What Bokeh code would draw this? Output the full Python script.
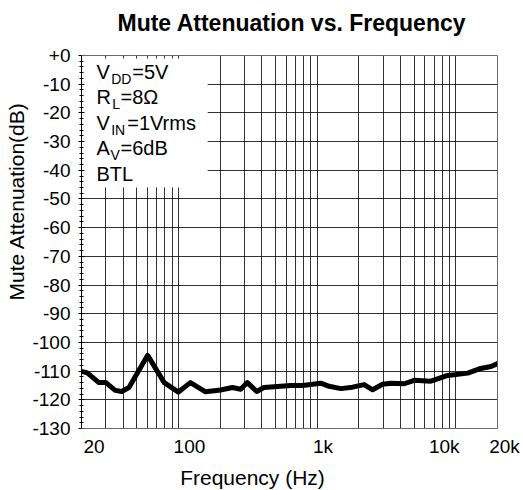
from bokeh.plotting import figure
from bokeh.models import FixedTicker, Label, BoxAnnotation, Range1d, Title, Grid
from bokeh.embed import file_html
from bokeh.resources import INLINE

# ---------------- data ----------------
freq_hz = [20, 22, 26.7, 30, 35, 39, 44, 60, 79, 100, 122, 157, 201, 245, 281,
           314, 367, 414, 547, 646, 784, 1063, 1222, 1483, 1801, 2185, 2513,
           2967, 3405, 4250, 5015, 6620, 8740, 12200, 14790, 17960, 20000]
atten_db = [-110.1, -110.6, -114.0, -114.0, -116.7, -117.1, -115.7, -104.5,
            -114.0, -117.3, -114.0, -117.2, -116.6, -115.7, -116.3, -114.0,
            -117.1, -115.7, -115.3, -115.0, -115.0, -114.2, -115.3, -116.1,
            -115.6, -114.7, -116.5, -114.6, -114.2, -114.4, -113.2, -113.5,
            -111.5, -110.7, -109.2, -108.4, -107.4]

x_tick_values = [20, 100, 1000, 10000, 20000]
x_tick_labels = ["20", "100", "1k", "10k", "20k"]
x_grid_values = [20, 30, 40, 50, 60, 70, 80, 90,
                 100, 200, 300, 400, 500, 600, 700, 800, 900,
                 1000, 2000, 3000, 4000, 5000, 6000, 7000, 8000, 9000,
                 10000, 20000]
y_tick_values = [-130, -120, -110, -100, -90, -80, -70, -60, -50, -40, -30, -20, -10, 0]
y_tick_labels = ["-130", "-120", "-110", "-100", "-90", "-80", "-70", "-60",
                 "-50", "-40", "-30", "-20", "-10", "+0"]
y_minor_values = list(range(-130, 1, 2))

cond_main = ["V", "R", "V", "A", "BTL"]
cond_sub = ["DD", "L", "IN", "V", ""]
cond_rest = ["=5V", "=8\u03a9", "=1Vrms", "=6dB", ""]

title_text = "Mute Attenuation vs. Frequency"
x_title = "Frequency (Hz)"
y_title = "Mute Attenuation(dB)"

X_MIN, X_MAX = 20, 20000
Y_MIN, Y_MAX = -130, 0

# ---------------- layout ----------------
FONT = "Liberation Sans"
W, H = 523, 490
PLOT_L, PLOT_R, PLOT_T, PLOT_B = 81, 497, 55, 428   # plot box in pixels
PX_PER_DB = (PLOT_B - PLOT_T) / (Y_MAX - Y_MIN)
PX_PER_DEC = (PLOT_R - PLOT_L) / 3.0

# the frame is extended to the canvas' top, right and bottom edges so that
# the free-standing texts there are not clipped; the extra part is masked white
x_end = X_MAX * 10 ** ((W - PLOT_R) / PX_PER_DEC)
y_top = Y_MAX + PLOT_T / PX_PER_DB
y_bot = Y_MIN - (H - PLOT_B) / PX_PER_DB


def db_at(py):
    """data y for an image pixel row"""
    return Y_MAX - (py - PLOT_T) / PX_PER_DB


p = figure(width=W, height=H, x_axis_type="log", title=None,
           x_range=Range1d(X_MIN, x_end), y_range=Range1d(y_bot, y_top),
           output_backend="svg", toolbar_location=None,
           min_border_left=PLOT_L, min_border_right=0,
           min_border_top=0, min_border_bottom=0)

p.outline_line_color = None
p.background_fill_color = "white"
p.border_fill_color = "white"

p.xaxis.visible = False

ya = p.yaxis[0]
ya.ticker = FixedTicker(ticks=y_tick_values, minor_ticks=y_minor_values)
ya.bounds = (Y_MIN, Y_MAX)
ya.major_label_overrides = {v: s for v, s in zip(y_tick_values, y_tick_labels)}
ya.axis_line_color = "black"
ya.major_tick_line_color = "black"
ya.minor_tick_line_color = "black"
ya.major_tick_in = 3
ya.major_tick_out = 3
ya.minor_tick_in = 2
ya.minor_tick_out = 2
ya.major_label_standoff = 8
ya.major_label_text_font = FONT
ya.major_label_text_font_size = "19px"
ya.major_label_text_color = "black"

p.add_layout(Title(text=y_title, align="left", offset=H - 300, standoff=3,
                   text_font=FONT, text_font_size="21px",
                   text_font_style="normal", text_color="black"), "left")

p.xgrid.ticker = FixedTicker(ticks=x_grid_values)
p.xgrid.grid_line_color = "black"
p.xgrid.grid_line_alpha = 0.8
p.ygrid.ticker = FixedTicker(ticks=y_tick_values)
p.ygrid.grid_line_color = "black"
p.ygrid.grid_line_alpha = 0.8
if "cross_bounds" in Grid.properties():
    p.xgrid.cross_bounds = (Y_MIN, Y_MAX)
    p.ygrid.cross_bounds = (X_MIN, X_MAX)

p.line(freq_hz, atten_db, line_width=5, line_color="black",
       line_join="round", line_cap="round")

# white masks over the frame extension (overshooting the frame edges)
x_far = x_end * 2
y_hi, y_lo = y_top + 20, y_bot - 20
p.add_layout(BoxAnnotation(left=X_MIN / 2, right=x_far, top=Y_MIN, bottom=y_lo,
                           fill_color="white", fill_alpha=1.0, line_color=None))
p.add_layout(BoxAnnotation(left=X_MIN / 2, right=x_far, top=y_hi, bottom=Y_MAX,
                           fill_color="white", fill_alpha=1.0, line_color=None))
p.add_layout(BoxAnnotation(left=X_MAX, right=x_far, top=y_hi, bottom=y_lo,
                           fill_color="white", fill_alpha=1.0, line_color=None))
# white conditions box
p.add_layout(BoxAnnotation(left=21, right=162.5, top=db_at(58), bottom=db_at(187),
                           fill_color="white", fill_alpha=1.0, line_color=None))
# plot border
p.add_layout(BoxAnnotation(left=X_MIN, right=X_MAX, top=Y_MAX, bottom=Y_MIN,
                           fill_alpha=0.0, line_color="black", line_width=1))

# chart title
p.add_layout(Label(x=117 - PLOT_L, y=db_at(22), x_units="screen", y_units="data",
                   text=title_text, text_align="left", text_baseline="middle",
                   text_font=FONT, text_font_size="23px", text_font_style="bold",
                   text_color="black"))

# x tick labels (placed individually, as in the original)
x_label_dx = [12.5, 11, 6, -11.5, 7]
for v, s, dx in zip(x_tick_values, x_tick_labels, x_label_dx):
    p.add_layout(Label(x=v, y=db_at(445.5), x_units="data", y_units="data",
                       x_offset=dx, text=s, text_align="center",
                       text_baseline="middle", text_font=FONT,
                       text_font_size="19px", text_color="black"))

p.add_layout(Label(x=252 - PLOT_L, y=db_at(477), x_units="screen", y_units="data",
                   text=x_title, text_align="center", text_baseline="middle",
                   text_font=FONT, text_font_size="21px", text_color="black"))

# conditions text
sub_x = [29.7, 30.7, 29.7, 29.0]
rest_x = [50.7, 39.0, 45.7, 39.0]
for i, (m, s, r) in enumerate(zip(cond_main, cond_sub, cond_rest)):
    mid = 71.0 + 25.6 * i
    p.add_layout(Label(x=15, y=db_at(mid), x_units="screen", y_units="data",
                       text=m, text_align="left", text_baseline="middle",
                       text_font=FONT, text_font_size="20px", text_color="black"))
    if s:
        p.add_layout(Label(x=sub_x[i], y=db_at(mid + 7), x_units="screen",
                           y_units="data", text=s, text_align="left",
                           text_baseline="middle", text_font=FONT,
                           text_font_size="14px", text_color="black"))
    if r:
        p.add_layout(Label(x=rest_x[i], y=db_at(mid), x_units="screen",
                           y_units="data", text=r, text_align="left",
                           text_baseline="middle", text_font=FONT,
                           text_font_size="20px", text_color="black"))

open("out.html", "w").write(file_html(p, INLINE))
